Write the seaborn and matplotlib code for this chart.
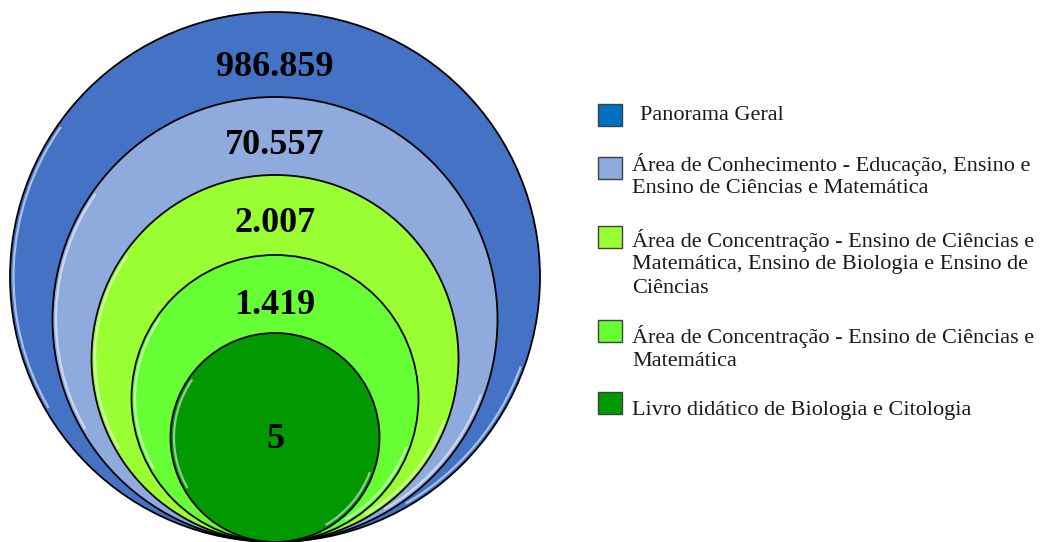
import matplotlib
matplotlib.use("Agg")
import matplotlib.pyplot as plt
from matplotlib.patches import Circle, Rectangle, Arc
import seaborn as sns

# ---- data ----
categories = [
    "Panorama Geral",
    "Área de Conhecimento - Educação, Ensino e\nEnsino de Ciências e Matemática",
    "Área de Concentração - Ensino de Ciências e\nMatemática, Ensino de Biologia e Ensino de\nCiências",
    "Área de Concentração - Ensino de Ciências e\nMatemática",
    "Livro didático de Biologia e Citologia",
]
values = [986859, 70557, 2007, 1419, 5]
value_labels = ["986.859", "70.557", "2.007", "1.419", "5"]
circle_colors = ["#4472C4", "#8FAADC", "#99FF33", "#66FF33", "#009900"]
legend_colors = ["#0070C0", "#8FAADC", "#99FF33", "#66FF33", "#009900"]

# ---- layout ----
radii = [265, 222.5, 183.5, 143.5, 104.5]
label_y = [67, 145, 224, 305, 440]
cx, base_y = 275, 542
legend_top = [104, 157, 226, 320, 392]
legend_text_y = [115, 164, 240, 337, 411]
line_gap = 24.4

sns.set_theme(style="white")
plt.rcParams["font.family"] = ["Liberation Serif", "DejaVu Serif"]

fig = plt.figure(figsize=(10.57, 5.42), dpi=100)
ax = fig.add_axes([0, 0, 1, 1])
ax.set_xlim(0, 1057)
ax.set_ylim(542, 0)
ax.set_aspect("equal")
ax.axis("off")

for r, col, lab, ly in zip(radii, circle_colors, value_labels, label_y):
    cy = base_y - r
    ax.add_patch(Circle((cx, cy), r, facecolor=col, edgecolor="black", linewidth=1.3, zorder=2))
    # subtle bevel highlights (y axis inverted: theta measured downward)
    ax.add_patch(Arc((cx, cy), 2 * (r - 3.5), 2 * (r - 3.5), theta1=150, theta2=215,
                     edgecolor="white", alpha=0.55, linewidth=1.6, zorder=3))
    ax.add_patch(Arc((cx, cy), 2 * (r - 3.5), 2 * (r - 3.5), theta1=20, theta2=60,
                     edgecolor="white", alpha=0.55, linewidth=1.6, zorder=3))
    ax.text(cx, ly, lab, ha="center", va="center", fontsize=26, fontweight="bold",
            color="black", zorder=4)

for i, (cat, col) in enumerate(zip(categories, legend_colors)):
    x0 = 598
    ax.add_patch(Rectangle((x0, legend_top[i]), 24, 22, facecolor=col,
                           edgecolor="#404040", linewidth=1.0, zorder=2))
    tx = 640 if i == 0 else 632
    for j, line in enumerate(cat.split("\n")):
        ax.text(tx, legend_text_y[i] + j * line_gap, line, ha="left", va="center",
                fontsize=16, color="#1a1a1a", zorder=4)

fig.savefig("out.png", dpi=100, facecolor="white")
